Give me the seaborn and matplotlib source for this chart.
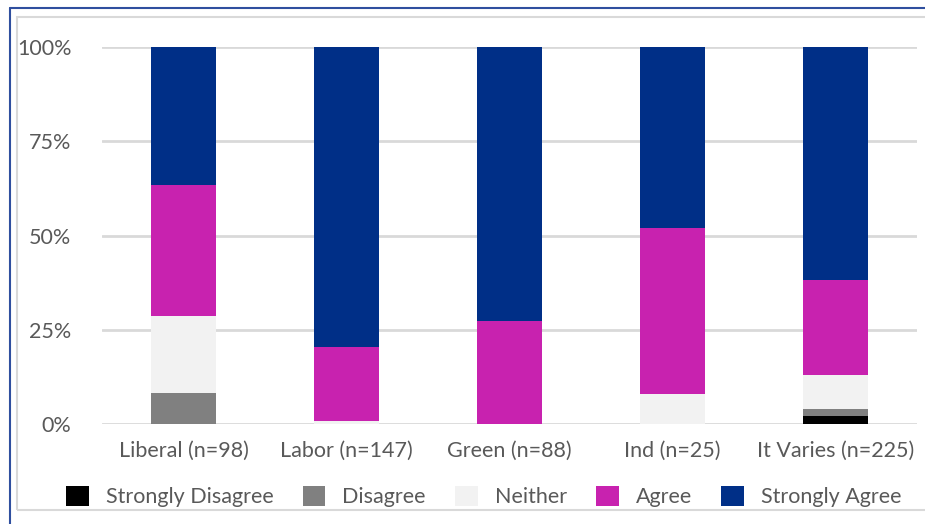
import matplotlib
matplotlib.use("Agg")
import matplotlib.pyplot as plt
import seaborn as sns
import numpy as np
from matplotlib.patches import Patch, Rectangle
from matplotlib.ticker import PercentFormatter

# data: counts per response
parties = ["Liberal (n=98)", "Labor (n=147)", "Green (n=88)", "Ind (n=25)", "It Varies (n=225)"]
responses = ["Strongly Disagree", "Disagree", "Neither", "Agree", "Strongly Agree"]
strongly_disagree = [0, 0, 0, 0, 5]
disagree = [8, 0, 0, 0, 4]
neither = [20, 1, 0, 2, 20]
agree = [34, 29, 24, 11, 57]
strongly_agree = [36, 117, 64, 12, 139]
colors = ["#000000", "#808080", "#f2f2f2", "#c822af", "#002f87"]

counts = np.array([strongly_disagree, disagree, neither, agree, strongly_agree], dtype=float)
shares = counts / counts.sum(axis=0)
cum = shares.cumsum(axis=0)

sns.set_style("white")
plt.rcParams["font.family"] = ["Lato", "DejaVu Sans"]
text_col = "#595959"
fs = 15.5

fig = plt.figure(figsize=(9.25, 5.24), dpi=100)
ax = fig.add_axes([102 / 925, 100 / 524, 815 / 925, 377 / 524])

# frame of the screenshot
fig.patches.append(Rectangle((17 / 925, (524 - 510) / 524), 1.0, (510 - 17) / 524,
                             transform=fig.transFigure, fill=False, edgecolor="#d9d9d9", lw=1.5))
fig.lines.append(plt.Line2D([10 / 925, 1.0], [(524 - 8) / 524] * 2, transform=fig.transFigure,
                            color="#2f4f9f", lw=1.5))
fig.lines.append(plt.Line2D([10 / 925] * 2, [0, (524 - 8) / 524], transform=fig.transFigure,
                            color="#2f4f9f", lw=1.5))

# stacked bars: draw cumulative totals from the top layer down
for i in range(len(responses) - 1, -1, -1):
    sns.barplot(x=parties, y=cum[i], color=colors[i], width=0.4, saturation=1,
                linewidth=0, ax=ax, zorder=3)

ax.set_ylim(0, 1)
ax.set_yticks([0, 0.25, 0.5, 0.75, 1.0])
ax.yaxis.set_major_formatter(PercentFormatter(1.0, decimals=0))
ax.grid(axis="y", color="#d9d9d9", lw=2, zorder=0)
ax.set_axisbelow(True)
for s in ax.spines.values():
    s.set_visible(False)
ax.tick_params(axis="y", length=0, pad=22, labelsize=fs, labelcolor=text_col)
ax.tick_params(axis="x", length=0, pad=12, labelsize=fs, labelcolor=text_col)
ax.set_xlabel("")
ax.set_ylabel("")

handles = [Patch(facecolor=c, edgecolor="none") for c in colors]
fig.legend(handles, responses, loc="center", bbox_to_anchor=(0.523, 0.052), ncol=5,
           frameon=False, fontsize=fs, labelcolor=text_col, handlelength=1.05,
           handleheight=1.05, handletextpad=0.8, columnspacing=1.35)

fig.savefig("out.png", dpi=100)
